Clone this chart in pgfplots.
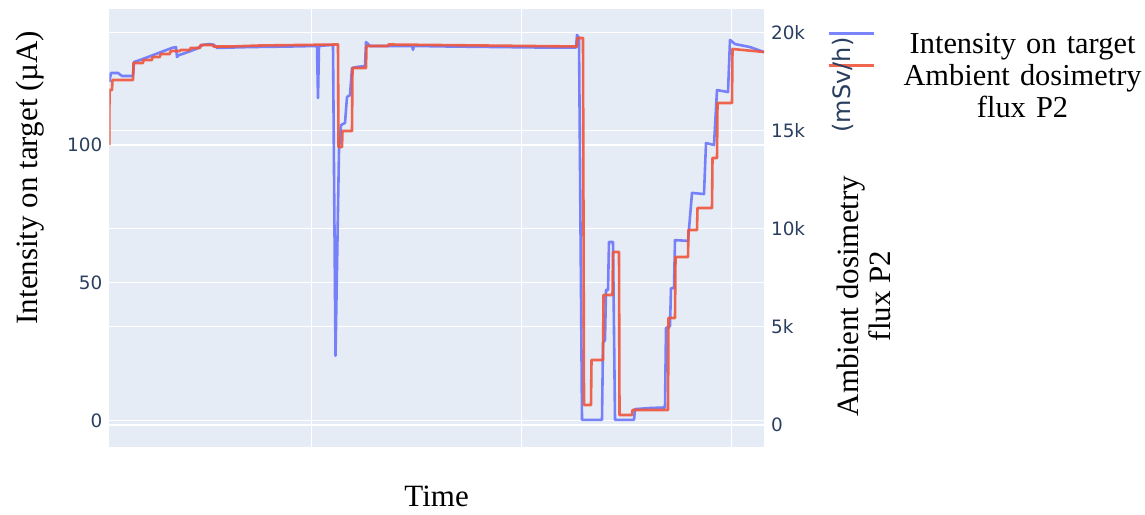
\documentclass[border=0pt]{standalone}
\usepackage{fontspec}
\setmainfont{Liberation Serif}
\newfontfamily\tickfont{DejaVu Sans}
\usepackage{pgfplots}
\pgfplotsset{compat=1.18}
\definecolor{plotbg}{HTML}{E5ECF6}
\definecolor{pblue}{HTML}{636EFA}
\definecolor{pred}{HTML}{EF553B}
\definecolor{tickc}{HTML}{2A3F5F}
\begin{document}
\begin{tikzpicture}
\path[use as bounding box] (0,0) rectangle (572.5pt,257pt);
\pgfplotsset{common/.style={scale only axis, width=327.35pt, height=218.7pt,
  at={(54.65pt,33.65pt)}, anchor=south west, xmin=109.3, xmax=764,
  axis line style={draw=none}, major tick length=0pt, minor tick length=0pt,
  ticklabel style={font=\tickfont\fontsize{9.2}{10}\selectfont, text=tickc}}}
\begin{axis}[common, ymin=-9.43, ymax=149.2,
  axis background/.style={fill=plotbg},
  xtick={311.7,521.5,731.5}, xticklabels={}, xmajorgrids,
  ytick={0,50,100}, yticklabels={0,50,100}, ymajorgrids,
  extra y ticks={-1.56,34.01,69.58,105.15,140.72}, extra y tick labels={},
  extra y tick style={grid=major},
  grid style={white, line width=0.55pt},
  xlabel={Time},
  xlabel style={at={(axis description cs:0.5,-0.114)}, anchor=center, font=\fontsize{15.5}{16}\selectfont},
  ylabel={Intensity on target (µA)},
  ylabel style={at={(axis description cs:-0.1206,0.6153)}, anchor=center, font=\fontsize{15.5}{16}\selectfont}]
\addplot[pblue, opacity=0.85, line width=1.3pt, line join=round] coordinates {
(109.3,122.8) (111,126.1) (118,126.1) (122,125.0) (133,125.0) (134,130.1)
(140,130.8) (148,131.9) (156,133.0) (164,134.1) (172,135.2) (176,135.5)
(177,131.9) (179,132.6) (188,133.7) (196,134.8) (203,136.3) (210,136.6)
(214,136.3) (217,135.2) (250,135.5) (290,135.7) (317,135.9) (318,117.0)
(319,135.9) (333,136.3) (335.5,23.5) (339,98.2) (341,107.2) (345,108.0)
(347,117.4) (350,118.1) (352,127.9) (357,128.3) (365,128.6) (366,137.3)
(370,135.9) (412,135.9) (413,134.5) (414,135.9) (450,135.7) (500,135.5)
(550,135.3) (576,135.3) (577,139.9) (579,138.8) (582,0.3) (602,0.3)
(603,28.2) (605,29.3) (606,47.4) (608,47.4) (609,64.8) (613,64.8)
(615,0.3) (634,0.3) (635,4.2) (650,4.6) (665,4.8) (666,33.6) (670,34.3)
(671,48.1) (674,48.1) (675,65.5) (688,65.2) (692,82.6) (704,82.2)
(706,100.7) (714,100.0) (717,119.9) (728,119.2) (730,138.1) (735,136.6)
(750,135.5) (764,133.7)
};
\end{axis}
\begin{axis}[common, ymin=-1106, ymax=21192,
  axis y line*=right, axis x line=none,
  ytick={0,5000,10000,15000,20000}, yticklabels={0,5k,10k,15k,20k},
  ylabel={Ambient dosimetry\\flux P2},
  ylabel style={align=center, at={(axis description cs:1.1527,0.3447)}, anchor=center, font=\fontsize{15.5}{16}\selectfont},
  legend style={at={(axis description cs:1.0977,0.9498)}, anchor=north west,
    draw=none, fill=none, inner sep=0pt, outer sep=0pt, row sep=0pt, column sep=12.5pt,
    font=\fontsize{15.2}{16}\selectfont,
    nodes={inner sep=0pt, text height=11pt, text depth=5pt, text width=122pt, align=center}},
  legend image code/.code={\draw[#1, yshift=7pt] (0pt,0pt) -- (22.5pt,0pt);}]
\addlegendimage{pblue, opacity=0.85, line width=1.3pt}
\addlegendentry{Intensity on target}
\addplot[pred, opacity=0.9, line width=1.3pt, line join=round] coordinates {
(109.3,14274) (109.5,17078) (112,17078) (112.5,17588) (133,17588) (133.5,18454)
(143,18454) (143.5,18607) (152,18607) (152.5,18760) (160,18760) (160.5,18913)
(170,18913) (170.5,19066) (180,19066) (180.5,19117) (190,19117) (190.5,19219)
(200,19219) (200.5,19372) (213,19372) (213.5,19296) (230,19296) (260,19347)
(338,19398) (338.5,14172) (342,14172) (342.5,14988) (352,14988) (352.5,18199)
(366,18199) (366.5,19321) (388,19321) (388.5,19398) (577,19296) (577.5,19729)
(583,19729) (584,1020) (591,1020) (591.5,3314) (603,3314) (603.5,6627)
(612.5,6627) (613,8819) (619,8819) (619.5,510) (632,510) (632.5,765)
(668,765) (668.5,5455) (675,5455) (675.5,8565) (688,8565) (688.5,9941)
(697,9941) (697.5,11062) (712,11062) (712.5,13611) (717,13611) (717.5,16415)
(732,16415) (732.5,19168) (764,19015)
};
\addlegendentry{Ambient dosimetry}
\addlegendimage{empty legend}
\addlegendentry{flux P2}
\end{axis}
\node[rotate=90, font=\tickfont\fontsize{12}{14}\selectfont, text=tickc] at (421.5pt,214.5pt) {(mSv/h)};
\end{tikzpicture}
\end{document}
